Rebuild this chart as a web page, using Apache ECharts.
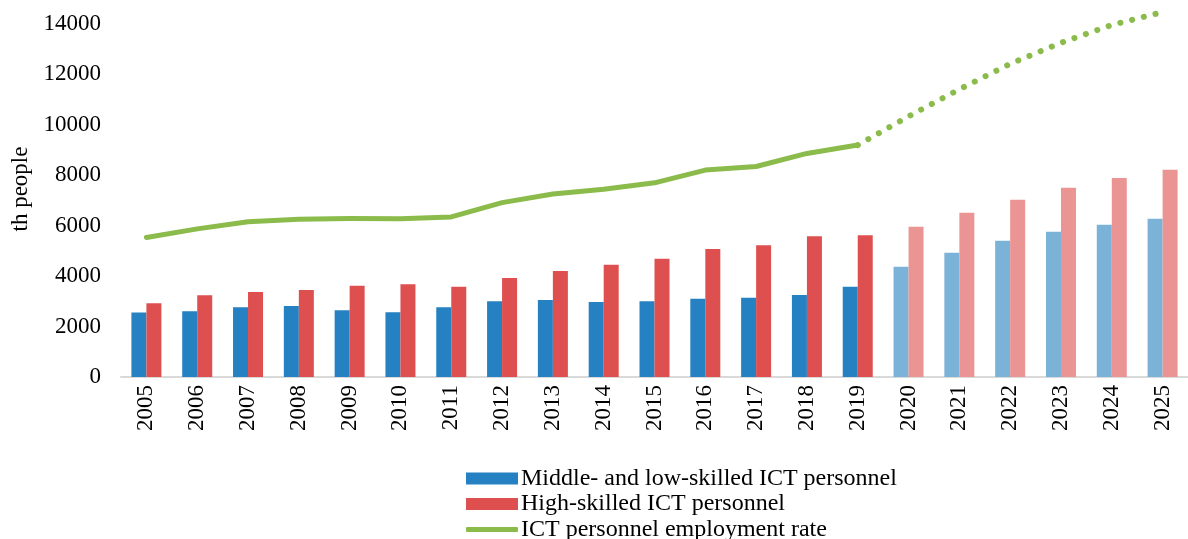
<!DOCTYPE html>
<html>
<head>
<meta charset="utf-8">
<title>ICT personnel</title>
<script src="https://cdn.jsdelivr.net/npm/echarts@6/dist/echarts.min.js"></script>
<style>
  html, body { margin: 0; padding: 0; background: #fff; }
  #chart { width: 1188px; height: 539px; }
</style>
</head>
<body>
<div id="chart"></div>
<script>
// years on the x axis
const years = ['2005','2006','2007','2008','2009','2010','2011','2012','2013','2014','2015',
  '2016','2017','2018','2019','2020','2021','2022','2023','2024','2025']
// first forecast year (lighter bars, dotted line)
const forecastFrom = '2020'

// th people
const midLowSkilled = [2560, 2610, 2760, 2810, 2650, 2570, 2760, 3000, 3050, 2970, 3000,
  3100, 3140, 3250, 3580, 4370, 4920, 5400, 5760, 6030, 6270]
const highSkilled = [2920, 3240, 3370, 3450, 3620, 3680, 3580, 3920, 4200, 4450, 4690,
  5070, 5220, 5580, 5620, 5950, 6510, 7020, 7500, 7890, 8210]
// employment, 2005-2019 actual, 2020-2025 forecast
const employActual = [5530, 5870, 6150, 6250, 6280, 6275, 6345, 6910, 7250, 7440, 7695,
  8200, 8340, 8860, 9190]
const employForecast = [10330, 11400, 12410, 13245, 13950, 14460]

const yTicks = [0, 2000, 4000, 6000, 8000, 10000, 12000, 14000]

const names = ['Middle- and low-skilled ICT personnel', 'High-skilled ICT personnel', 'ICT personnel employment rate']
const font = 'Liberation Serif, Times New Roman, serif'
const green = '#8bbb4b'

const chart = echarts.init(document.getElementById('chart'))
const split = years.indexOf(forecastFrom)

//bars: forecast years get the light colour
function barData(values, dark, light) {
  return values.map((v, i) => ({ value: v, itemStyle: { color: i >= split ? light : dark } }))
}

//line data: solid part and dotted part joined at the last actual year
const solidData = years.map((y, i) => i < employActual.length ? employActual[i] : null)
const dottedData = years.map((y, i) => {
  if (i === split - 1) return employActual[employActual.length - 1]
  if (i >= split) return employForecast[i - split]
  return null
})

//one legend per row so nothing wraps at the bottom edge
function legendRow(name, top, h, color) {
  return {
    left: 461, top: top, orient: 'vertical',
    itemWidth: 52, itemHeight: h, itemGap: 0,
    textStyle: { fontFamily: font, fontSize: 24, color: '#000', padding: [0, 0, 0, -2] },
    data: [{ name: name, icon: h < 8 ? 'roundRect' : 'rect', itemStyle: { color: color } }]
  }
}

const option = {
  animation: false,
  grid: { left: 121, top: 1, width: 1070, height: 376 },
  legend: [
    legendRow(names[0], 461.5, 12, '#2581c2'),
    legendRow(names[1], 487, 12, '#de4f4f'),
    legendRow(names[2], 512.5, 5, green)
  ],
  xAxis: {
    type: 'category',
    data: years,
    axisLine: { lineStyle: { color: '#d9d9d9', width: 2 } },
    axisTick: { show: false },
    axisLabel: { rotate: 90, margin: 8, fontFamily: font, fontSize: 23, color: '#000' }
  },
  yAxis: {
    type: 'value',
    min: 0,
    max: 14900,
    interval: 2000,
    name: 'th people',
    nameLocation: 'middle',
    nameGap: 88,
    nameTextStyle: { fontFamily: font, fontSize: 23, color: '#000' },
    axisLine: { show: false },
    axisTick: { show: false },
    splitLine: { show: false },
    axisLabel: {
      margin: 20, fontFamily: font, fontSize: 23, color: '#000',
      showMaxLabel: false,
      formatter: v => yTicks.indexOf(v) >= 0 ? String(v) : ''
    }
  },
  series: [
    {
      name: names[0], type: 'bar', barWidth: 15, barGap: '0%',
      itemStyle: { color: '#2581c2' },
      data: barData(midLowSkilled, '#2581c2', '#7bb2d8')
    },
    {
      name: names[1], type: 'bar', barWidth: 15, barGap: '0%',
      itemStyle: { color: '#de4f4f' },
      data: barData(highSkilled, '#de4f4f', '#ea9494')
    },
    {
      name: names[2], type: 'line', symbol: 'none', clip: false,
      lineStyle: { color: green, width: 5, cap: 'round', join: 'round' },
      itemStyle: { color: green },
      data: solidData
    },
    {
      name: names[2], type: 'line', symbol: 'none', clip: false,
      lineStyle: { color: green, width: 6, type: [0.1, 12], cap: 'round', join: 'round' },
      itemStyle: { color: green },
      data: dottedData
    }
  ]
}
chart.setOption(option)
</script>
</body>
</html>
